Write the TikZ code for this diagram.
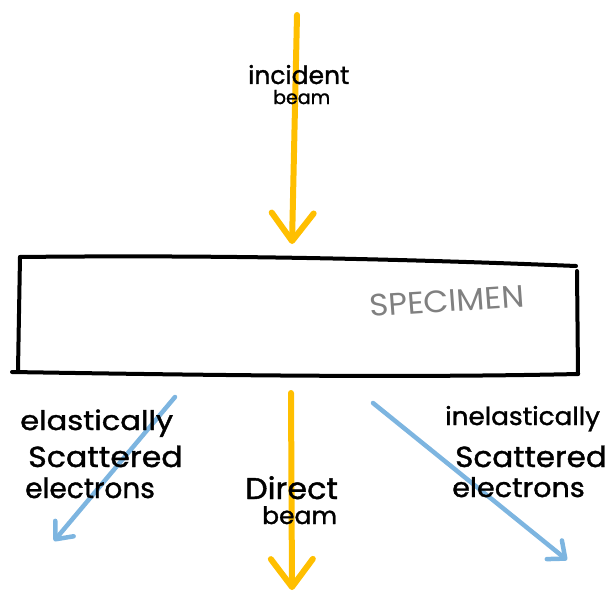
\documentclass[tikz,border=0pt]{standalone}
\usepackage{fontspec}
\setmainfont{Poppins}
\newfontfamily\hand{Poppins}[FakeBold=1.3]
\usetikzlibrary{arrows.meta,calc}
\definecolor{beamyellow}{HTML}{FFBF00}
\definecolor{scatblue}{HTML}{7DB5E0}
\definecolor{specgray}{HTML}{808080}
\tikzset{
  beam/.style={draw=beamyellow, line width=6pt, line cap=round,
    -{Straight Barb[length=28pt, width=42pt, line width=6pt, line cap=round, round]}},
  scat/.style={draw=scatblue, line width=4.5pt, line cap=round,
    -{Straight Barb[length=14pt, width=24pt, line width=4.5pt, line cap=round, round]}},
  edge/.style={draw=black, line width=4pt, line cap=round, line join=round},
  lbl/.style={text=black, inner sep=0pt, anchor=base west},
  fs/.style={font=\hand\fontsize{#1}{#1}\selectfont},
}
\begin{document}
\begin{tikzpicture}[x=1pt,y=-1pt]
\useasboundingbox (0,0) rectangle (610,594);
% incident beam
\coordinate (inTop) at (297,15);
\coordinate (inTip) at (292,244);
\draw[beam] (inTop) -- (inTip);
\node[lbl, fs=25] (incident) at (248,84) {incident};
\node[lbl, fs=19] (beamA) at (273,104) {beam};
% specimen
\coordinate (tl) at (20,257);
\coordinate (tr) at (576,266);
\coordinate (br) at (578,374);
\coordinate (bl) at (18,370);
\draw[edge] (tl) .. controls (200,255) and (380,258) .. (tr);
\draw[edge] ($(tr)+(1,5)$) -- (br);
\draw[edge] (tl) -- (bl);
\draw[edge] (12,372) .. controls (200,375) and (400,378) .. (br);
\node[text=specgray, font=\fontsize{31}{31}\selectfont, xscale=1.05, rotate=4, inner sep=0pt] (spec) at (447,301) {SPECIMEN};
% direct beam
\coordinate (dTop) at (291,393);
\coordinate (dTip) at (292,590);
\draw[beam] (dTop) -- (dTip);
\node[lbl, fs=30, xscale=1.06] (direct) at (245,499) {Direct};
\node[lbl, fs=24, xscale=1.04] (beamB) at (262,524) {beam};
% elastic
\coordinate (eStart) at (175,397);
\coordinate (eTip) at (54,541);
\draw[scat] (eStart) -- (eTip);
\node[lbl, fs=27, xscale=1.13] (el1) at (20,430) {elastically};
\node[lbl, fs=29, xscale=1.09] (el2) at (28,467) {Scattered};
\node[lbl, fs=28] (el3) at (25,498) {electrons};
% inelastic
\coordinate (iStart) at (373,403);
\coordinate (iTip) at (567,560);
\draw[scat] (iStart) -- (iTip);
\node[lbl, fs=25, xscale=1.05] (in1) at (445,425) {inelastically};
\node[lbl, fs=29, xscale=1.07] (in2) at (455,467) {Scattered};
\node[lbl, fs=27, xscale=1.06] (in3) at (452,497) {electrons};
\end{tikzpicture}
\end{document}
